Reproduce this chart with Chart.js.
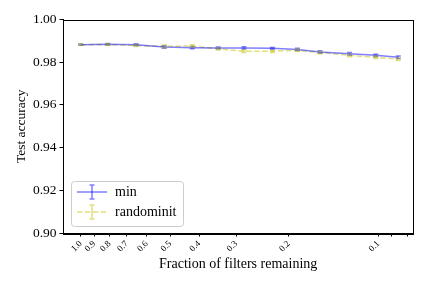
<!DOCTYPE html>
<html>
<head>
<meta charset="utf-8">
<script src="https://cdn.jsdelivr.net/npm/chart.js@4.4.0/dist/chart.umd.min.js"></script>
<style>
    html, body { margin: 0; padding: 0; background: #fff; }
    #wrap { width: 432px; height: 288px; }
</style>
</head>
<body>
<div id="wrap"><canvas id="chart" width="432" height="288"></canvas></div>
<script>
    // Data
    var fractions = [1.0, 0.811, 0.652, 0.524, 0.422, 0.345, 0.283, 0.227, 0.187, 0.157, 0.125, 0.102, 0.0857];
    var minAcc = [0.9882, 0.9884, 0.9882, 0.9871, 0.9868, 0.9867, 0.9867, 0.9865, 0.9860, 0.9848, 0.9840, 0.9832, 0.9823];
    var minErr = [0.0003, 0.0004, 0.0004, 0.0006, 0.0005, 0.0004, 0.0005, 0.0004, 0.0005, 0.0006, 0.0006, 0.0005, 0.0006];
    var randAcc = [0.9882, 0.9883, 0.9878, 0.9874, 0.9876, 0.9862, 0.9851, 0.9851, 0.9856, 0.9845, 0.9832, 0.9823, 0.9814];
    var randErr = [0.0003, 0.0004, 0.0005, 0.0006, 0.0006, 0.0005, 0.0006, 0.0005, 0.0005, 0.0005, 0.0006, 0.0006, 0.0006];

    var xTickValues = [1.0, 0.9, 0.8, 0.7, 0.6, 0.5, 0.4, 0.3, 0.2, 0.1, 0.09, 0.08];
    var xTickLabels = ["1.0", "0.9", "0.8", "0.7", "0.6", "0.5", "0.4", "0.3", "0.2", "0.1", "", ""];
    var yTickValues = [0.90, 0.92, 0.94, 0.96, 0.98, 1.00];

    var FONT = "'Liberation Serif', 'DejaVu Serif', serif";
    var BLUE = "rgba(0, 0, 255, 0.5)";
    var YELLOW = "rgba(191, 191, 0, 0.5)";
    var DASH = [5.5, 2.4];

    function toPoints(xs, ys) {
        return xs.map(function (x, i) { return { x: x, y: ys[i] }; });
    }

    // error bars, frame and legend
    var extras = {
        id: "extras",
        afterDatasetsDraw: function (chart) {
            var ctx = chart.ctx;
            var xs = chart.scales.x, ys = chart.scales.y;
            var sets = [[minAcc, minErr, BLUE], [randAcc, randErr, YELLOW]];
            ctx.save();
            sets.forEach(function (s) {
                ctx.strokeStyle = s[2];
                ctx.lineWidth = 1.5;
                fractions.forEach(function (f, i) {
                    var px = xs.getPixelForValue(f);
                    var lo = ys.getPixelForValue(s[0][i] - s[1][i]);
                    var hi = ys.getPixelForValue(s[0][i] + s[1][i]);
                    ctx.beginPath();
                    ctx.moveTo(px, lo); ctx.lineTo(px, hi);
                    ctx.moveTo(px - 2.5, lo); ctx.lineTo(px + 2.5, lo);
                    ctx.moveTo(px - 2.5, hi); ctx.lineTo(px + 2.5, hi);
                    ctx.stroke();
                });
            });
            ctx.restore();
        },
        afterDraw: function (chart) {
            var ctx = chart.ctx, a = chart.chartArea;
            ctx.save();
            ctx.strokeStyle = "#000";
            ctx.lineWidth = 1;
            ctx.strokeRect(Math.round(a.left) + 0.5, Math.round(a.top) + 0.5,
                Math.round(a.right - a.left), Math.round(a.bottom - a.top));

            // legend box
            var bx = 71.5, by = 181.5, bw = 112, bh = 45, r = 3;
            ctx.beginPath();
            ctx.moveTo(bx + r, by);
            ctx.arcTo(bx + bw, by, bx + bw, by + bh, r);
            ctx.arcTo(bx + bw, by + bh, bx, by + bh, r);
            ctx.arcTo(bx, by + bh, bx, by, r);
            ctx.arcTo(bx, by, bx + bw, by, r);
            ctx.closePath();
            ctx.fillStyle = "rgba(255,255,255,0.8)";
            ctx.fill();
            ctx.strokeStyle = "#cccccc";
            ctx.stroke();

            var items = [["min", BLUE, [], 192], ["randominit", YELLOW, DASH, 212]];
            items.forEach(function (it) {
                var y = it[3];
                ctx.strokeStyle = it[1];
                ctx.lineWidth = 1.5;
                ctx.setLineDash(it[2]);
                ctx.beginPath();
                ctx.moveTo(77, y); ctx.lineTo(107, y);
                ctx.stroke();
                ctx.setLineDash([]);
                ctx.beginPath();
                ctx.moveTo(92, y - 7); ctx.lineTo(92, y + 7);
                ctx.moveTo(89.5, y - 7); ctx.lineTo(94.5, y - 7);
                ctx.moveTo(89.5, y + 7); ctx.lineTo(94.5, y + 7);
                ctx.stroke();
                ctx.fillStyle = "#000";
                ctx.font = "14px " + FONT;
                ctx.textBaseline = "middle";
                ctx.fillText(it[0], 115, y);
            });
            ctx.restore();
        }
    };

    var chart = new Chart(document.getElementById("chart").getContext("2d"), {
        type: "line",
        data: {
            datasets: [{
                label: "min",
                data: toPoints(fractions, minAcc),
                borderColor: BLUE,
                borderWidth: 1.5,
                pointRadius: 0,
                tension: 0,
                fill: false
            }, {
                label: "randominit",
                data: toPoints(fractions, randAcc),
                borderColor: YELLOW,
                borderWidth: 1.5,
                borderDash: DASH,
                pointRadius: 0,
                tension: 0,
                fill: false
            }]
        },
        options: {
            responsive: false,
            animation: false,
            devicePixelRatio: 1,
            layout: { padding: { top: 19.5, right: 18.7, left: 0, bottom: 0 } },
            plugins: { legend: { display: false }, tooltip: { enabled: false } },
            scales: {
                x: {
                    type: "logarithmic",
                    reverse: true,
                    min: 0.0763,
                    max: 1.147,
                    afterBuildTicks: function (scale) {
                        scale.ticks = xTickValues.map(function (v) { return { value: v }; });
                    },
                    afterFit: function (scale) { scale.height = 55; },
                    ticks: {
                        autoSkip: false,
                        minRotation: 45,
                        maxRotation: 45,
                        padding: 2,
                        color: "#000",
                        font: { family: FONT, size: 9 },
                        callback: function (v, i) { return xTickLabels[i]; }
                    },
                    grid: { display: true, drawOnChartArea: false, drawTicks: true, tickLength: 3.5, color: "#000" },
                    border: { display: true, color: "#000" },
                    title: {
                        display: true,
                        text: "Fraction of filters remaining",
                        color: "#000",
                        font: { family: FONT, size: 14 },
                        padding: { top: 0, bottom: 15 }
                    }
                },
                y: {
                    type: "linear",
                    min: 0.90,
                    max: 1.00,
                    afterBuildTicks: function (scale) {
                        scale.ticks = yTickValues.map(function (v) { return { value: v }; });
                    },
                    afterFit: function (scale) { scale.width = 63; },
                    ticks: {
                        padding: 3,
                        color: "#000",
                        font: { family: FONT, size: 13.5 },
                        callback: function (v) { return Number(v).toFixed(2); }
                    },
                    grid: { display: true, drawOnChartArea: false, drawTicks: true, tickLength: 3.5, color: "#000" },
                    border: { display: true, color: "#000" },
                    title: {
                        display: true,
                        text: "Test accuracy",
                        color: "#000",
                        font: { family: FONT, size: 13.5 },
                        padding: { top: 13, bottom: 0 }
                    }
                }
            }
        },
        plugins: [extras]
    });
</script>
</body>
</html>
